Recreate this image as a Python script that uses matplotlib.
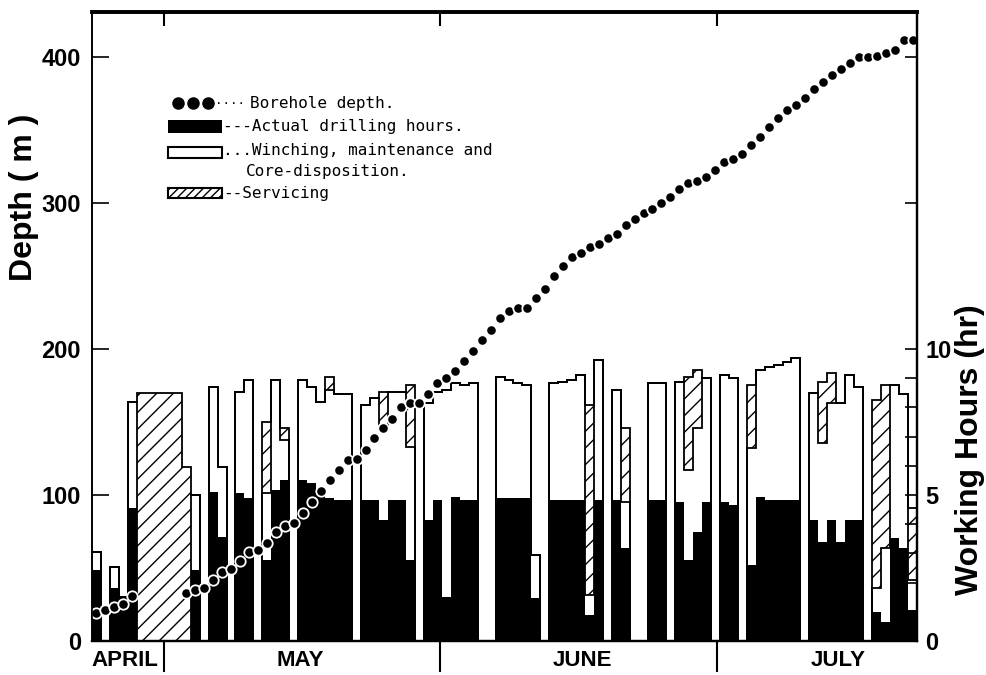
import numpy as np
import matplotlib.pyplot as plt
from matplotlib.patches import Rectangle

plt.rcParams['hatch.linewidth'] = 1.0

# one slot per day, 23 April .. 23 July (hours)
drill = [2.43, 0, 1.82, 1.51, 4.55, 0, 0, 0, 0, 0,
         0, 2.43, 0, 5.10, 3.56, 0, 5.07, 4.90, 0, 2.77,
         5.17, 5.51, 0, 5.51, 5.41, 5.17, 4.90, 4.83, 4.83, 0,
         4.83, 4.83, 4.14, 4.83, 4.83, 2.77, 0, 4.14, 4.83, 1.51,
         4.93, 4.83, 4.83, 0, 0, 4.90, 4.90, 4.90, 4.90, 1.47,
         0, 4.83, 4.83, 4.83, 4.83, 0.89, 4.83, 0, 4.83, 3.18,
         0, 0, 4.83, 4.83, 0, 4.76, 2.77, 3.73, 4.76, 0,
         4.76, 4.66, 0, 2.60, 4.93, 4.83, 4.83, 4.83, 4.83, 0,
         4.14, 3.39, 4.14, 3.39, 4.14, 4.14, 0, 0.99, 0.65, 3.53,
         3.18, 1.06]
winch = [0.62, 0, 0.71, 0, 3.63, 0, 0, 0, 0, 0,
         0, 2.57, 0, 3.60, 2.40, 0, 3.46, 4.04, 0, 2.30,
         3.77, 1.37, 0, 3.43, 3.29, 3.01, 3.70, 3.63, 3.63, 0,
         3.25, 3.49, 3.19, 3.70, 3.70, 3.87, 0, 4.01, 3.70, 7.09,
         3.91, 3.94, 4.01, 0, 0, 4.14, 4.04, 3.94, 3.87, 1.48,
         0, 4.01, 4.04, 4.11, 4.28, 0.69, 4.79, 0, 3.77, 1.58,
         0, 0, 4.01, 4.01, 0, 4.11, 3.09, 3.56, 4.25, 0,
         4.35, 4.35, 0, 4.01, 4.35, 4.55, 4.62, 4.72, 4.86, 0,
         4.35, 3.39, 4.01, 4.76, 4.97, 4.56, 0, 0.83, 2.53, 5.24,
         5.27, 1.03]
service = [0, 0, 0, 0, 0, 8.49, 8.49, 8.49, 8.49, 8.49,
           5.96, 0, 0, 0, 0, 0, 0, 0, 0, 2.43,
           0, 0.41, 0, 0, 0, 0, 0.44, 0, 0, 0,
           0, 0, 1.20, 0, 0, 2.13, 0, 0, 0, 0,
           0, 0, 0, 0, 0, 0, 0, 0, 0, 0,
           0, 0, 0, 0, 0, 6.50, 0, 0, 0, 2.53,
           0, 0, 0, 0, 0, 0, 3.18, 1.99, 0, 0,
           0, 0, 0, 2.16, 0, 0, 0, 0, 0, 0,
           0, 2.09, 1.03, 0, 0, 0, 0, 6.43, 5.59, 0,
           0, 2.46]
nan = np.nan
depth = [19, 21, 23, 25, 31, nan, nan, nan, nan, nan,
         33, 35, 36, 42, 47, 49, 55, 61, 62, 67,
         75, 79, 81, 88, 95, 103, 110, 117, 124, 125,
         131, 139, 146, 152, 160, 163, 163, 169, 177, 180,
         185, 192, 199, 206, 213, 221, 226, 228, 228, 235,
         241, 250, 257, 263, 266, 270, 272, 276, 279, 285,
         289, 293, 296, 300, 304, 310, 314, 315, 318, 323,
         328, 330, 334, 340, 345, 352, 358, 364, 367, 372,
         378, 383, 388, 392, 396, 400, 400, 401, 403, 405,
         412, 412]

months = ['APRIL', 'MAY', 'JUNE', 'JULY']
month_mid = [3.7, 23.2, 54.7, 83.2]
month_edge = [8.0, 38.8, 69.7]

drill = np.array(drill)
winch = np.array(winch)
service = np.array(service)
n = len(drill)
x = np.arange(n) + 0.5
edges = np.arange(n + 1)

fig = plt.figure(figsize=(9.87, 6.75), dpi=100)
ax = fig.add_axes([0.0932, 0.0504, 0.8359, 0.9319])

ax.bar(x, drill, width=1, color='black', lw=0)
ax.bar(x, winch, width=1, bottom=drill, color='white', lw=0)
ax.bar(x, service, width=1, bottom=drill + winch, facecolor='white',
       edgecolor='black', hatch='//', lw=0)
ax.stairs(drill + winch + service, edges, baseline=drill + winch,
          color='black', lw=1.3)

ax.set_xlim(0, n)
ax.set_ylim(0, 21.55)

ax2 = ax.twinx()
ax2.plot(x, depth, 'o', color='black', mec='white', mew=1.3, ms=7.5)
ax2.set_ylim(0, 431)

# hours on the right, depth on the left
ax.yaxis.tick_right()
ax2.yaxis.tick_left()
ax.set_yticks([0, 5, 10])
ax.set_yticks([1, 2, 3, 4, 6, 7, 8, 9, 15, 20], minor=True)
ax.tick_params(axis='y', which='both', direction='in', length=9, width=1.2,
               labelsize=17, pad=6, left=False, right=True)
ax2.set_yticks([0, 100, 200, 300, 400])
ax2.tick_params(axis='y', direction='in', length=12, width=1.2, labelsize=17, pad=8)
ax.set_xticks(month_edge)
ax.tick_params(axis='x', top=True, bottom=False, labelbottom=False,
               direction='in', length=10, width=1.5)
ax2.tick_params(axis='x', top=False, bottom=False)

bold_font = 'Liberation Sans'
for lab in ax.get_yticklabels() + ax2.get_yticklabels():
    lab.set_fontweight('bold')
    lab.set_family(bold_font)

for a in (ax, ax2):
    a.spines['top'].set_linewidth(2.6)
    a.spines['left'].set_linewidth(1.2)
    a.spines['right'].set_linewidth(1.6)
    a.spines['bottom'].set_linewidth(1.6)

# month names under the axis
xt = ax.get_xaxis_transform()
for name, pos in zip(months, month_mid):
    ax.text(pos, -0.031, name, transform=xt, ha='center', va='center',
            fontsize=16, fontweight='bold', family=bold_font)
for e in month_edge:
    ax.plot([e, e], [0, -0.048], transform=xt, color='black', lw=1.5, clip_on=False)

fig.text(24 / 987, 1 - 197 / 675, 'Depth ( m )', rotation=90, ha='center', va='center',
         fontsize=23, fontweight='bold', family=bold_font)
fig.text(970 / 987, 1 - 450 / 675, 'Working Hours (hr)', rotation=90, ha='center',
         va='center', fontsize=23, fontweight='bold', family=bold_font)

# hand-made legend
mono = 'DejaVu Sans Mono'
tr = ax2.transAxes
ax2.plot([0.104, 0.122, 0.141], [0.855] * 3, 'o', color='black', ms=8, transform=tr)
ax2.text(0.149, 0.855, '····', transform=tr, va='center', fontsize=9, family=mono)
ax2.text(0.1915, 0.855, 'Borehole depth.', transform=tr, va='center', fontsize=11.5, family=mono)
ax2.add_patch(Rectangle((0.092, 0.808), 0.066, 0.020, transform=tr, facecolor='black'))
ax2.text(0.159, 0.818, '---Actual drilling hours.', transform=tr, va='center',
         fontsize=11.5, family=mono)
ax2.add_patch(Rectangle((0.092, 0.768), 0.066, 0.017, transform=tr, facecolor='white',
                        edgecolor='black', lw=1.5))
ax2.text(0.159, 0.779, '...Winching, maintenance and', transform=tr, va='center',
         fontsize=11.5, family=mono)
ax2.text(0.187, 0.746, 'Core-disposition.', transform=tr, va='center',
         fontsize=11.5, family=mono)
ax2.add_patch(Rectangle((0.092, 0.704), 0.066, 0.016, transform=tr, facecolor='white',
                        edgecolor='black', hatch='////', lw=1.5))
ax2.text(0.159, 0.711, '--Servicing', transform=tr, va='center', fontsize=11.5, family=mono)

fig.savefig('out.png', dpi=100)
